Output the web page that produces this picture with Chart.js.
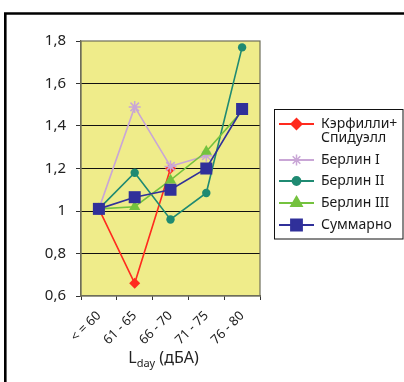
<!DOCTYPE html>
<html>
<head>
<meta charset="utf-8">
<script src="https://cdn.jsdelivr.net/npm/chart.js@4/dist/chart.umd.min.js"></script>
<style>
  html, body { margin: 0; padding: 0; background: #fff; }
  #wrap { position: relative; width: 404px; height: 382px; }
</style>
</head>
<body>
<div id="wrap"><canvas id="noiseChart" width="404" height="382"></canvas></div>
<script>
const CATEGORIES = ["< = 60", "61 - 65", "66 - 70", "71 - 75", "76 - 80"];

const SERIES_NAMES = [
  ["Кэрфилли+", "Спидуэлл"],
  ["Берлин I"],
  ["Берлин II"],
  ["Берлин III"],
  ["Суммарно"],
];

const CAERPHILLY = [1.01, 0.66, 1.2, null, null];
const BERLIN_1 = [1.01, 1.49, 1.21, 1.26, null];
const BERLIN_2 = [1.01, 1.18, 0.96, 1.085, 1.77];
const BERLIN_3 = [1.01, 1.02, 1.145, 1.28, 1.47];
const TOTAL = [1.01, 1.065, 1.10, 1.20, 1.48];

const Y_TICKS = ["0,6", "0,8", "1", "1,2", "1,4", "1,6", "1,8"];

const FONT = "'Noto Sans', 'Open Sans', sans-serif";

const STYLES = [
  { color: "#ff2a1e", point: "rectRot", radius: 5.5, width: 1.6 },
  { color: "#c9a6d6", point: "star", radius: 6, width: 1.6 },
  { color: "#1f8a72", point: "circle", radius: 4.2, width: 1.6 },
  { color: "#74c23e", point: "triangle", radius: 6.5, width: 1.6 },
  { color: "#30309a", point: "rect", radius: 8.5, width: 1.6 },
];

const seriesData = [CAERPHILLY, BERLIN_1, BERLIN_2, BERLIN_3, TOTAL];

const datasets = seriesData.map((data, i) => ({
  label: SERIES_NAMES[i].join(" "),
  data: data,
  borderColor: STYLES[i].color,
  backgroundColor: STYLES[i].color,
  pointBackgroundColor: STYLES[i].color,
  pointBorderColor: STYLES[i].color,
  pointBorderWidth: STYLES[i].point === "star" ? 1.5 : 0,
  pointStyle: STYLES[i].point,
  pointRadius: STYLES[i].radius,
  borderWidth: STYLES[i].width,
  tension: 0,
  spanGaps: false,
  clip: false,
  // the summary line goes on top, the first series at the bottom
  order: seriesData.length - i,
}));

// yellow plot area with a grey frame, outer frame lines, x title and legend
const decorPlugin = {
  id: "decor",
  beforeDraw(chart) {
    const { ctx, chartArea: a } = chart;
    ctx.save();
    ctx.fillStyle = "#efec8a";
    ctx.fillRect(a.left, a.top, a.right - a.left, a.bottom - a.top);
    ctx.restore();
  },
  beforeDatasetsDraw(chart) {
    const { ctx, chartArea: a } = chart;
    ctx.save();
    ctx.strokeStyle = "#6e6e5a";
    ctx.lineWidth = 1.2;
    ctx.strokeRect(a.left, a.top, a.right - a.left, a.bottom - a.top);
    ctx.restore();
  },
  afterDraw(chart) {
    const { ctx, chartArea: a } = chart;
    ctx.save();

    // outer frame (top and left edges)
    ctx.strokeStyle = "#000";
    ctx.lineWidth = 2.6;
    ctx.beginPath();
    ctx.moveTo(5.3, 382);
    ctx.lineTo(5.3, 13.5);
    ctx.lineTo(404, 13.5);
    ctx.stroke();

    // x axis title: L with "day" subscript
    ctx.fillStyle = "#222";
    ctx.textBaseline = "alphabetic";
    const big = "16px " + FONT;
    const small = "11px " + FONT;
    ctx.font = big;
    const w1 = ctx.measureText("L").width;
    const w3 = ctx.measureText(" (дБА)").width;
    ctx.font = small;
    const w2 = ctx.measureText("day").width;
    const cx = (a.left + a.right) / 2 - 7;
    let x = cx - (w1 + w2 + w3) / 2;
    ctx.font = big;
    ctx.fillText("L", x, 363);
    x += w1;
    ctx.font = small;
    ctx.fillText("day", x, 367);
    x += w2;
    ctx.font = big;
    ctx.fillText(" (дБА)", x, 363);

    // legend box
    const box = { left: 274.5, top: 109.5, right: 403, bottom: 239 };
    ctx.fillStyle = "#fff";
    ctx.fillRect(box.left, box.top, box.right - box.left, box.bottom - box.top);
    ctx.strokeStyle = "#111";
    ctx.lineWidth = 1;
    ctx.strokeRect(box.left, box.top, box.right - box.left, box.bottom - box.top);

    const rowsY = [124, 160, 181, 203, 225];
    ctx.font = "14px " + FONT;
    ctx.textBaseline = "middle";
    SERIES_NAMES.forEach((lines, i) => {
      const st = STYLES[i];
      const y = rowsY[i];
      ctx.strokeStyle = st.color;
      ctx.lineWidth = 2.2;
      ctx.beginPath();
      ctx.moveTo(279, y);
      ctx.lineTo(314, y);
      ctx.stroke();
      ctx.fillStyle = st.color;
      ctx.strokeStyle = st.color;
      ctx.lineWidth = st.point === "star" ? 1.5 : 0;
      Chart.helpers.drawPoint(ctx, {
        pointStyle: st.point,
        radius: st.point === "rect" ? 7.5 : st.radius * 0.9,
        borderWidth: ctx.lineWidth,
        rotation: 0,
      }, 296.5, y);
      ctx.fillStyle = "#1a1a1a";
      lines.forEach((t, k) => ctx.fillText(t, 321, y + k * 14));
    });
    ctx.restore();
  },
};

new Chart(document.getElementById("noiseChart"), {
  type: "line",
  data: { labels: CATEGORIES, datasets: datasets },
  options: {
    responsive: false,
    animation: false,
    events: [],
    layout: { padding: { left: 0, right: 144, top: 41, bottom: 0 } },
    plugins: {
      legend: { display: false },
      tooltip: { enabled: false },
      title: { display: false },
    },
    scales: {
      x: {
        offset: true,
        afterFit(scale) { scale.height = 86; },
        grid: {
          offset: true,
          drawOnChartArea: false,
          color: "#333",
          tickLength: 4,
        },
        border: { color: "#6e6e5a", width: 1.2 },
        ticks: {
          minRotation: 45,
          maxRotation: 45,
          autoSkip: false,
          padding: 8,
          color: "#222",
          font: { family: FONT, size: 13 },
        },
      },
      y: {
        min: 0.6,
        max: 1.8,
        afterFit(scale) { scale.width = 81; },
        grid: {
          color: (c) => (c.tick && (c.tick.value <= 0.6 || c.tick.value >= 1.8) ? "rgba(0,0,0,0)" : "#111"),
          tickColor: "#333",
          lineWidth: 1,
          tickLength: 5,
        },
        border: { color: "#6e6e5a", width: 1.2 },
        ticks: {
          stepSize: 0.2,
          padding: 10,
          color: "#222",
          font: { family: FONT, size: 15 },
          callback: (v) => {
            const idx = Math.round((v - 0.6) / 0.2);
            return Y_TICKS[idx] ?? "";
          },
        },
      },
    },
  },
  plugins: [decorPlugin],
});
</script>
</body>
</html>
